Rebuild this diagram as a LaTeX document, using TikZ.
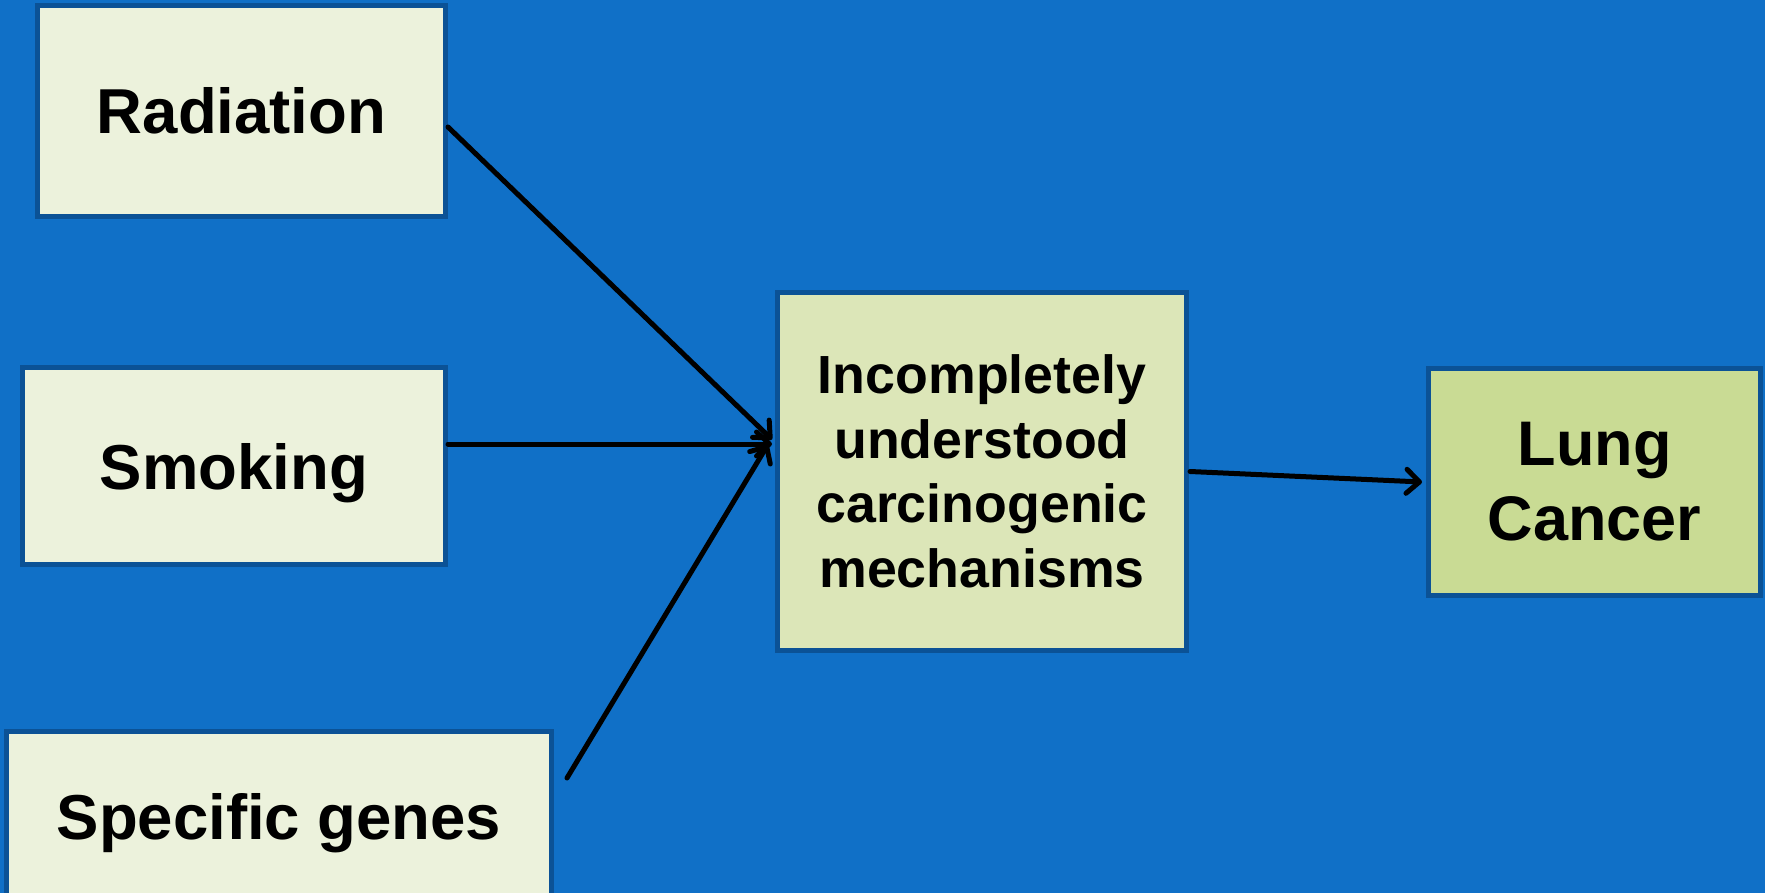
\documentclass[tikz,border=0pt]{standalone}
\usepackage{fontspec}
\setmainfont{Liberation Sans}
\usetikzlibrary{calc,arrows.meta}
\definecolor{bgblue}{RGB}{16,112,199}
\definecolor{bordblue}{RGB}{11,82,150}
\definecolor{fillA}{RGB}{236,242,220}
\definecolor{fillB}{RGB}{220,230,184}
\definecolor{fillC}{RGB}{201,219,148}
\tikzset{
  box/.style={draw=bordblue, line width=5pt, inner sep=0pt, align=center, font=\bfseries},
  onel/.style={text height=46pt, text depth=0pt},
  conn/.style={draw=black, line width=5pt, line cap=round,
    -{Straight Barb[length=13pt,width=24pt,line width=5pt,round]}}
}
\begin{document}
\begin{tikzpicture}[x=1pt,y=-1pt]
\useasboundingbox (0,0) rectangle (1765,893);
\fill[bgblue] (0,0) rectangle (1765,893);
\node[box, onel, fill=fillA, minimum width=408pt, minimum height=211pt,
  font=\fontsize{63.5}{73}\selectfont\bfseries] (rad) at (241.5,111) {Radiation};
\node[box, onel, fill=fillA, minimum width=423pt, minimum height=197pt,
  font=\fontsize{63.5}{73}\selectfont\bfseries] (smk) at (234,466) {Smoking};
\node[box, onel, fill=fillA, minimum width=545pt, minimum height=169pt,
  font=\fontsize{63.5}{73}\selectfont\bfseries] (gen) at (279,816) {Specific genes};
\node[box, fill=fillB, minimum width=409pt, minimum height=358pt,
  font=\fontsize{53.7}{64.5}\selectfont\bfseries] (mech) at (982,471.5)
  {Incompletely\\understood\\carcinogenic\\mechanisms};
\node[box, fill=fillC, minimum width=332pt, minimum height=227pt,
  font=\fontsize{63}{75}\selectfont\bfseries] (lung) at (1594.5,482) {Lung\\Cancer};
\coordinate (rs) at ($(rad.east)+(0,16)$);
\coordinate (ss) at ($(smk.east)+(0,-22)$);
\coordinate (gs) at ($(gen.north east)+(13,49)$);
\coordinate (convr) at ($(mech.west)+(-3,-32)$);
\coordinate (convs) at ($(mech.west |- ss)+(-3,0)$);
\coordinate (convg) at ($(mech.west)+(-7,-27)$);
\draw[conn] (rs) -- (convr);
\draw[conn] (ss) -- (convs);
\draw[conn] (gs) -- (convg);
\draw[conn] ($(mech.east)+(1,0)$) -- ($(lung.west)+(-4,0)$);
\end{tikzpicture}
\end{document}
